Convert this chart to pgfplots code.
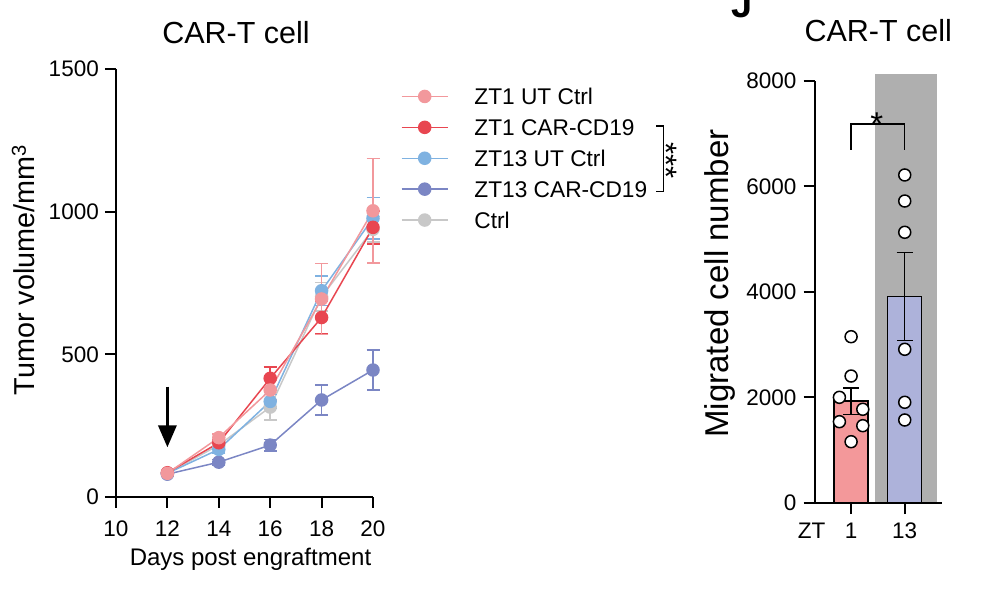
\documentclass[border=0pt]{standalone}
\usepackage{pgfplots}
\pgfplotsset{compat=1.18}
\usepackage{pgfplotstable}
\usepackage{fontspec}
\setmainfont{Liberation Sans}
\usetikzlibrary{arrows.meta}

\newcommand{\fsz}[1]{\fontsize{#1}{#1}\selectfont}

\definecolor{utone}{RGB}{242,152,156}
\definecolor{carone}{RGB}{232,70,80}
\definecolor{utthirteen}{RGB}{127,178,225}
\definecolor{carthirteen}{RGB}{123,134,196}
\definecolor{ctrlgray}{RGB}{200,200,200}
\definecolor{barone}{RGB}{243,152,154}
\definecolor{barthirteen}{RGB}{173,178,218}
\definecolor{shade}{RGB}{175,175,175}

% tumour volume (mm^3): mean and SEM per day
\pgfplotstableread{
day vol err
12  83   6
14  182  12
16  315  45
18  702  50
20  938  45
}\ctrl
\pgfplotstableread{
day vol err
12  80   6
14  122  10
16  182  20
18  340  52
20  445  70
}\ztthirteencar
\pgfplotstableread{
day vol err
12  83   8
14  167  12
16  335  25
18  723  52
20  977  73
}\ztthirteenut
\pgfplotstableread{
day vol err
12  85   8
14  190  12
16  416  40
18  629  58
20  945  58
}\ztonecar
\pgfplotstableread{
day vol err
12  83   8
14  208  12
16  375  35
18  694  125
20  1003 183
}\ztoneut

\pgfplotsset{
  tvline/.style={
    line width=1.5pt, color=#1, mark=*, mark size=6pt,
    mark options={fill=#1, draw=#1, line width=1.5pt},
    error bars/.cd, y dir=both, y explicit,
    error bar style={line width=1.5pt, color=#1},
    error mark options={rotate=90, mark size=6.5pt, line width=1.5pt, color=#1},
  },
  panel/.style={
    scale only axis,
    axis lines=left,
    axis line style={-, line width=2pt, black},
    tick align=outside,
    major tick length=11pt,
    tick style={line width=2pt, black},
    ticklabel style={font=\fsz{22.5}},
    /pgf/number format/assume math mode=true,
    /pgf/number format/1000 sep={},
    clip=false,
  },
}

\begin{document}
\begin{tikzpicture}[x=1pt,y=1pt]
\useasboundingbox (0,0) rectangle (1004,596);

% ---------------- tumour growth ----------------
\begin{axis}[
  panel,
  width=257pt, height=428pt,
  at={(116pt,99pt)}, anchor=south west,
  xmin=10, xmax=20, ymin=0, ymax=1500,
  xtick={10,12,...,20}, ytick={0,500,1000,1500},
  xticklabel style={inner sep=0pt, anchor=north, yshift=-12.7pt},
  yticklabel style={inner sep=0pt, anchor=east, xshift=-6pt},
  reverse legend,
  legend cell align=left,
  legend style={at={(1.108,0.955)}, anchor=north west, draw=none, fill=none,
    inner sep=0pt, font=\fsz{22.7}, row sep=14.9pt,
    nodes={inner sep=0pt, text height=16pt, text depth=0pt}},
  legend image code/.code={
    \draw[mark repeat=2, mark phase=2] plot coordinates {(0pt,0pt) (23pt,0pt) (46pt,0pt)};
    \path (72pt,0pt);
  },
]
\addplot[tvline=ctrlgray] table[x=day, y=vol, y error=err] {\ctrl};
\addlegendentry{Ctrl}
\addplot[tvline=carthirteen] table[x=day, y=vol, y error=err] {\ztthirteencar};
\addlegendentry{ZT13 CAR-CD19}
\addplot[tvline=utthirteen] table[x=day, y=vol, y error=err] {\ztthirteenut};
\addlegendentry{ZT13 UT Ctrl}
\addplot[tvline=carone] table[x=day, y=vol, y error=err] {\ztonecar};
\addlegendentry{ZT1 CAR-CD19}
\addplot[tvline=utone] table[x=day, y=vol, y error=err] {\ztoneut};
\addlegendentry{ZT1 UT Ctrl}
% treatment day
\draw[line width=3.3pt, -{Triangle[width=18pt, length=22pt]}]
  (axis cs:12,387) -- (axis cs:12,174);
\end{axis}

\node[font=\fsz{30.5}, anchor=base] at (236,552.7) {CAR-T cell};
\node[font=\fsz{28.8}, anchor=base, rotate=90] at (35,326) {Tumor volume/mm\textsuperscript{3}};
\node[font=\fsz{24}, anchor=base] at (250.5,30) {Days post engraftment};

% significance bracket beside the legend
\draw[line width=1.5pt] (656,470) -- (663.3,470) -- (663.3,404.3) -- (656,404.3);
\node[font=\fsz{31}, rotate=-90, anchor=center] at (666,435.3) {***};

% ---------------- migration ----------------
\begin{axis}[
  panel,
  width=127pt, height=421.7pt,
  at={(815pt,93.3pt)}, anchor=south west,
  xmin=0.327, xmax=2.695, ymin=0, ymax=8000,
  xtick={1,2}, xticklabels={1,13},
  ytick={0,2000,...,8000},
  major tick length=11.5pt,
  axis on top,
  xticklabel style={inner sep=0pt, anchor=north, yshift=-8.3pt},
  yticklabel style={inner sep=0pt, anchor=east, xshift=-7pt},
]
% ZT13 shading
\addplot[fill=shade, draw=none] coordinates {(1.449,0) (2.602,0) (2.602,8133) (1.449,8133)} -- cycle;
% means with SEM
\addplot[ybar, bar width=34pt, bar shift=0pt, fill=barone, draw=black, line width=1.5pt,
  error bars/.cd, y dir=both, y explicit,
  error bar style={line width=1.5pt, black},
  error mark options={rotate=90, mark size=8pt, line width=1.5pt, black}]
  coordinates {(1,1925) +- (0,250)};
\addplot[ybar, bar width=34pt, bar shift=0pt, fill=barthirteen, draw=black, line width=1.5pt,
  error bars/.cd, y dir=both, y explicit,
  error bar style={line width=1.5pt, black},
  error mark options={rotate=90, mark size=8pt, line width=1.5pt, black}]
  coordinates {(2,3909) +- (0,834)};
% individual wells
\addplot[only marks, mark=*, mark size=6pt, mark options={fill=white, draw=black, line width=1.5pt}]
  coordinates {(1,3149) (1,2403) (0.782,1999) (1.218,1772) (0.782,1537) (1.218,1461) (1,1157)};
\addplot[only marks, mark=*, mark size=6pt, mark options={fill=white, draw=black, line width=1.5pt}]
  coordinates {(2,6217) (2,5723) (2,5130) (2,2910) (2,1905) (2,1569)};
% comparison bracket
\draw[line width=1.5pt] (axis cs:1,6700) |- (axis cs:2,7180) -- (axis cs:2,6700);
\node[font=\fsz{33}, anchor=base] at (axis cs:1.48,6960) {*};
\end{axis}

\node[font=\fsz{22.5}, anchor=north, inner sep=0pt] at (811.7,73.3) {ZT};
\node[font=\fsz{30.5}, anchor=base] at (878.3,554.3) {CAR-T cell};
\node[font=\fsz{33}, anchor=base, rotate=90] at (728.3,312.5) {Migrated cell number};
\node[font=\bfseries\fsz{38}, anchor=base west, inner sep=0pt] at (731,578) {J};
\end{tikzpicture}
\end{document}
